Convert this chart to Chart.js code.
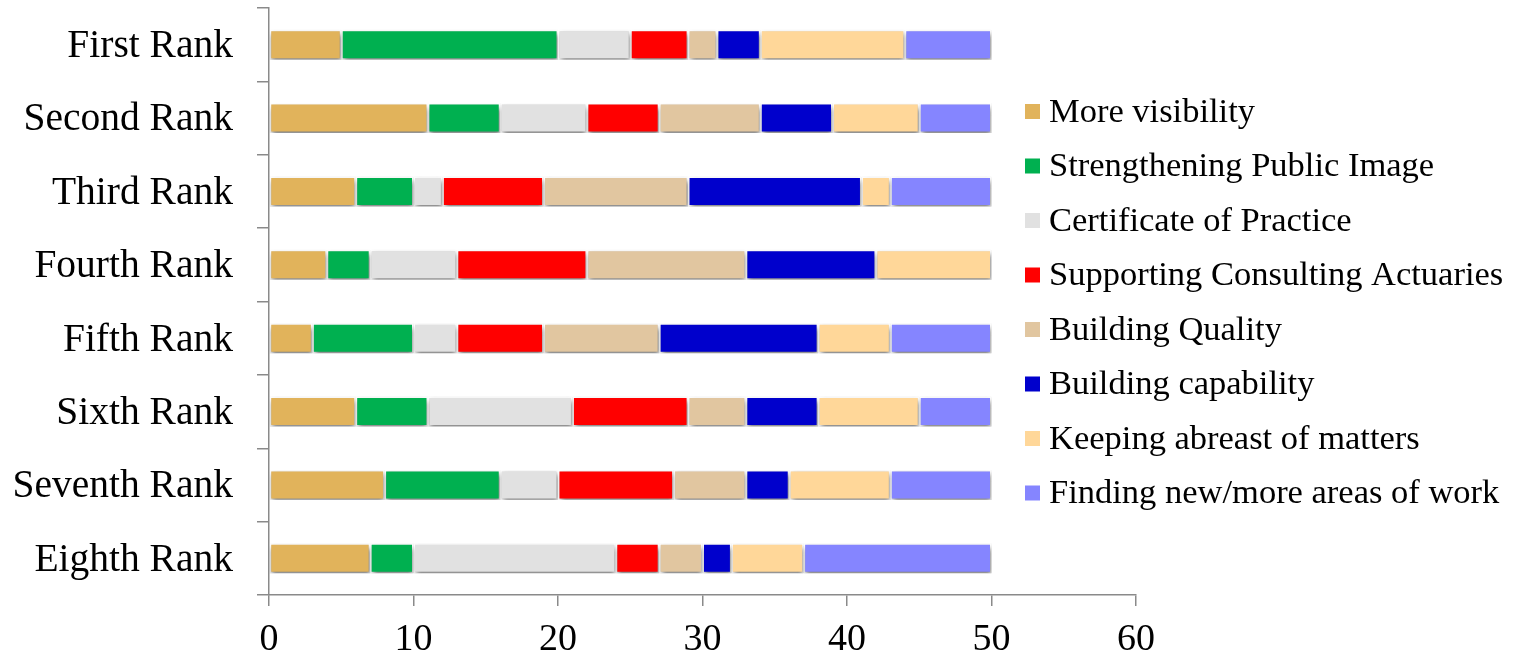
<!DOCTYPE html>
<html>
<head>
<meta charset="utf-8">
<script src="https://cdn.jsdelivr.net/npm/chart.js@4"></script>
<style>
html,body{margin:0;padding:0;background:#fff;}
#wrap{width:1523px;height:654px;position:relative;}
</style>
</head>
<body>
<div id="wrap"><canvas id="c" width="1523" height="654"></canvas></div>
<script>
const categories = ["First Rank","Second Rank","Third Rank","Fourth Rank","Fifth Rank","Sixth Rank","Seventh Rank","Eighth Rank"];
const seriesNames = ["More visibility","Strengthening Public Image","Certificate of Practice","Supporting Consulting Actuaries","Building Quality","Building capability","Keeping abreast of matters","Finding new/more areas of work"];
const moreVisibility = [5,11,6,4,3,6,8,7];
const publicImage    = [15,5,4,3,7,5,8,3];
const certificate    = [5,6,2,6,3,10,4,14];
const consulting     = [4,5,7,9,6,8,8,3];
const quality        = [2,7,10,11,8,4,5,3];
const capability     = [3,5,12,9,11,5,3,2];
const keepingAbreast = [10,6,2,8,5,7,7,5];
const newAreas       = [6,5,7,0,7,5,7,13];
const xTicks = [0,10,20,30,40,50,60];
const colors = ["#E1B35B","#00B050","#E1E1E1","#FF0000","#E1C6A0","#0000CC","#FFD799","#8585FF"];

const seriesValues = [moreVisibility,publicImage,certificate,consulting,quality,capability,keepingAbreast,newAreas];
const FONT = "'Liberation Serif','Times New Roman',serif";

const shadowPlugin = {
  id:'barShadow',
  beforeDatasetsDraw(chart){
    const ctx = chart.ctx;
    ctx.save();
    ctx.shadowColor = 'rgba(0,0,0,0.55)';
    ctx.shadowBlur = 5;
    ctx.shadowOffsetX = 1;
    ctx.shadowOffsetY = 3;
  },
  afterDatasetsDraw(chart){
    chart.ctx.restore();
  }
};

const legendPlugin = {
  id:'customLegend',
  afterDraw(chart){
    const ctx = chart.ctx;
    ctx.save();
    ctx.font = "34.5px " + FONT;
    ctx.textBaseline = 'middle';
    ctx.textAlign = 'left';
    const x0 = 1025, y0 = 111.5, step = 54.5, box = 15;
    chart.data.datasets.forEach((ds,i)=>{
      const y = y0 + i*step;
      ctx.fillStyle = ds.backgroundColor;
      ctx.fillRect(x0, y - box/2, box, box);
      ctx.fillStyle = '#000';
      ctx.fillText(ds.label, x0 + box + 9, y + 1);
    });
    ctx.restore();
  }
};

new Chart(document.getElementById('c'), {
  type:'bar',
  data:{
    labels: categories,
    datasets: seriesNames.map((n,i)=>({
      label:n,
      data: seriesValues[i],
      backgroundColor: colors[i],
      borderColor:'#FFFFFF',
      borderWidth:1.5,
      borderSkipped:false,
      barPercentage:0.41,
      categoryPercentage:1.0
    }))
  },
  options:{
    indexAxis:'y',
    responsive:false,
    animation:false,
    devicePixelRatio:1,
    layout:{padding:{left:0,right:387,top:8,bottom:0}},
    plugins:{legend:{display:false},tooltip:{enabled:false}},
    scales:{
      x:{
        stacked:true,
        min:0,max:60,
        z:1,
        afterBuildTicks(scale){ scale.ticks = xTicks.map(v=>({value:v})); },
        afterFit(scale){ scale.height = 59; scale.paddingLeft = 0; scale.paddingRight = 0; },
        ticks:{color:'#000',font:{family:FONT,size:38,lineHeight:1.0},padding:15},
        grid:{drawOnChartArea:false,drawTicks:true,tickLength:11,color:'#8A8A8A',lineWidth:1.5},
        border:{display:true,color:'#8A8A8A',width:1.5}
      },
      y:{
        stacked:true,
        z:1,
        afterFit(scale){ scale.width = 269; scale.paddingTop = 0; scale.paddingBottom = 0; },
        ticks:{color:'#000',font:{family:FONT,size:39.5},padding:24,labelOffset:2},
        grid:{drawOnChartArea:false,drawTicks:true,tickLength:12,offset:true,color:'#8A8A8A',lineWidth:1.5},
        border:{display:true,color:'#8A8A8A',width:1.5}
      }
    }
  },
  plugins:[shadowPlugin,legendPlugin]
});
</script>
</body>
</html>
